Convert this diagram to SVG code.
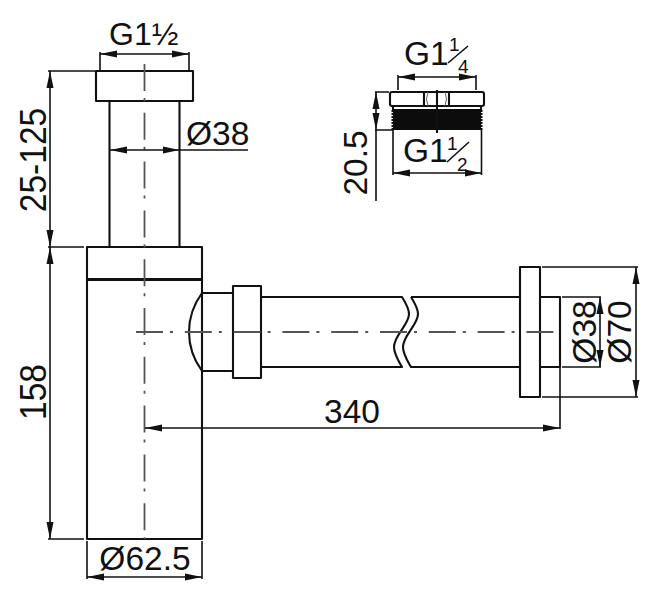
<svg xmlns="http://www.w3.org/2000/svg" width="652" height="590" viewBox="0 0 652 590">
<style>
text{font-family:"Liberation Sans",Arial,sans-serif;font-size:33.5px;fill:#111}
text.f{font-size:19px}
.o{fill:none;stroke:#111;stroke-width:2.1;stroke-linejoin:round}
.d{fill:none;stroke:#111;stroke-width:1.6}
.a{marker-start:url(#ar);marker-end:url(#ar)}
.c{fill:none;stroke:#555;stroke-width:1.8;stroke-dasharray:27 7 3 11.8}
</style>
<defs>
<marker id="ar" markerUnits="userSpaceOnUse" markerWidth="18" markerHeight="8" refX="17" refY="4" orient="auto-start-reverse"><path d="M17,4 L0,0.500 V7.500 Z" fill="#111"/></marker>
</defs>
<rect width="652" height="590" fill="#fff"/>
<g id="trap">
<path class="o" d="M96,71H193V101H96Z"/>
<path class="o" d="M109.500,101V247M179.500,101V247"/>
<path class="o" d="M87,247H202V539H87Z"/>
<path d="M87,279.500H202" fill="none" stroke="#111" stroke-width="3"/>
<path class="o" d="M202,293H233M202,371H233M202,293C194,304 189,317 189,332C189,347 194,360 202,371"/>
<path class="o" d="M233,286H261V378H233Z"/>
<path class="o" d="M261,297H402C407,305 409,309 409,314C409,325 394,335 394,347C394,354 398,360 402,367H261"/>
<path class="o" d="M411,297C416,305 418,309 418,314C418,325 403,335 403,347C403,354 407,360 411,367H520"/>
<path class="o" d="M411,297H520"/>
<path class="o" d="M520,267H540V397H520Z"/>
<path class="o" d="M540,297H560V367H540"/>
</g>
<g id="fitting">
<rect class="o" x="390" y="92" width="94" height="14" rx="2"/>
<path class="o" d="M424,92V106M449,92V106"/>
<path d="M428,92Q425,99 428,106M445,92Q448,99 445,106" fill="none" stroke="#666" stroke-width="1"/>
<path class="o" d="M393,106V110M481,106V110"/>
<rect x="393" y="109" width="88" height="21" fill="#0c0c0c"/>
<path d="M392.500,110V130M481.500,110V130" fill="none" stroke="#0c0c0c" stroke-width="2" stroke-dasharray="2 1"/>
<path class="o" d="M437,90V133"/>
</g>
<g id="centerlines">
<path class="c" d="M144.500,64V539"/>
<path class="c" d="M136,332H560"/>
</g>
<g id="connectors">
<path class="d" d="M100,52V70M189,52V70"/>
<path class="d a" d="M100,54H189"/>
<path class="d" d="M48,71H95M48,247H84M48,539H84"/>
<path class="d a" d="M50,71V247"/>
<path class="d a" d="M50,247V539"/>
<path class="d a" d="M110,150H179.500"/>
<path class="d" d="M179.500,150H248"/>
<path class="d" d="M87,541V579M202,541V579"/>
<path class="d a" d="M87,577H202"/>
<path class="d a" d="M145,428H560"/>
<path class="d" d="M560,367V429"/>
<path class="d" d="M542,267H638M542,397H638M562,297H601M562,367H601"/>
<path class="d a" d="M636,267V397"/>
<path class="d a" d="M600,297V367"/>
<path class="d" d="M398,90V75M476,90V75"/>
<path class="d a" d="M398,77H476"/>
<path class="d" d="M375,92H389M375,130H393"/>
<path class="d a" d="M376,92V130"/>
<path class="d" d="M376,130V201"/>
<path class="d" d="M393,130V175M481.500,130V175"/>
<path class="d a" d="M393,173H481.500"/>
<path class="d" d="M448,63L468,46M447,162L469,142"/>
</g>
<g id="labels">
<text x="109" y="45" style="font-size:32px">G1½</text>
<text x="186" y="145">Ø38</text>
<text transform="translate(46,160) rotate(-90) scale(1,1.08)" text-anchor="middle">25-125</text>
<text transform="translate(46,392) rotate(-90) scale(1,1.08)" text-anchor="middle">158</text>
<text x="145" y="570" text-anchor="middle">Ø62.5</text>
<text x="352" y="423" text-anchor="middle">340</text>
<text transform="translate(596,332) rotate(-90)" text-anchor="middle">Ø38</text>
<text transform="translate(631,332) rotate(-90)" text-anchor="middle">Ø70</text>
<text transform="translate(367,163) rotate(-90)" text-anchor="middle">20.5</text>
<text x="404" y="65">G1</text>
<text class="f" x="449" y="50.500">1</text>
<text class="f" x="458" y="73">4</text>
<text x="403" y="162">G1</text>
<text class="f" x="447" y="149.500">1</text>
<text class="f" x="457" y="171">2</text>
</g>
</svg>
